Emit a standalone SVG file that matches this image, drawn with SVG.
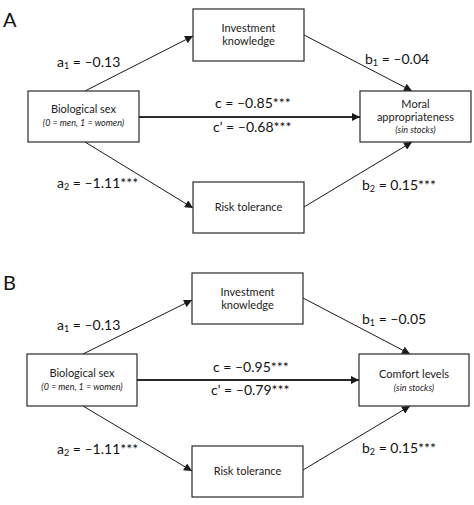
<svg xmlns="http://www.w3.org/2000/svg" width="474" height="505" viewBox="0 0 474 505">
<defs>
<marker id="ah" viewBox="0 0 10 10" refX="10" refY="5" markerWidth="9" markerHeight="8" markerUnits="userSpaceOnUse" orient="auto">
<path d="M0,0 L10,5 L0,10 Z" fill="#1a1a1a"/>
</marker>
</defs>
<style>
.box{fill:#fff;stroke:#2a2a2a;stroke-width:1.2}
.nt{font-family:Lato,"Open Sans",sans-serif;font-size:11px;fill:#222;text-anchor:middle}
.it{font-family:Lato,"Open Sans",sans-serif;font-size:9px;font-style:italic;fill:#222;text-anchor:middle}
.lb{font-family:Lato,"Open Sans",sans-serif;font-size:14px;fill:#111}
.pl{font-family:Lato,"Open Sans",sans-serif;font-size:20px;fill:#111}
.ln{stroke:#1a1a1a;stroke-width:1;fill:none;marker-end:url(#ah)}
.lc{stroke:#2a2a2a;stroke-width:1.8;fill:none;marker-end:url(#ah)}
</style>
<rect width="474" height="505" fill="#fff"/>

<text class="pl" x="3" y="27">A</text>
<text class="pl" x="3" y="290">B</text>

<g id="connectors">
<line class="ln" x1="85" y1="91" x2="193" y2="36"/>
<line class="ln" x1="304" y1="35" x2="412" y2="91"/>
<line class="lc" x1="139" y1="117" x2="360" y2="117"/>
<line class="ln" x1="85" y1="142" x2="193" y2="208"/>
<line class="ln" x1="304" y1="207" x2="412" y2="142"/>

<line class="ln" x1="83" y1="354" x2="192" y2="300"/>
<line class="ln" x1="303" y1="298" x2="410" y2="354"/>
<line class="lc" x1="137" y1="380" x2="359" y2="380"/>
<line class="ln" x1="83" y1="406" x2="192" y2="471"/>
<line class="ln" x1="303" y1="470" x2="410" y2="406"/>

<text class="lb" x="57" y="67">a<tspan font-size="9" dy="2">1</tspan><tspan dy="-2"> = –0.13</tspan></text>
<text class="lb" x="365" y="64">b<tspan font-size="9" dy="2">1</tspan><tspan dy="-2"> = –0.04</tspan></text>
<text class="lb" x="215" y="108">c = –0.85***</text>
<text class="lb" x="213" y="132">c’ = –0.68***</text>
<text class="lb" x="57" y="188">a<tspan font-size="9" dy="2">2</tspan><tspan dy="-2"> = –1.11***</tspan></text>
<text class="lb" x="362" y="190">b<tspan font-size="9" dy="2">2</tspan><tspan dy="-2"> = 0.15***</tspan></text>

<text class="lb" x="57" y="330">a<tspan font-size="9" dy="2">1</tspan><tspan dy="-2"> = –0.13</tspan></text>
<text class="lb" x="362" y="324">b<tspan font-size="9" dy="2">1</tspan><tspan dy="-2"> = –0.05</tspan></text>
<text class="lb" x="213" y="372">c = –0.95***</text>
<text class="lb" x="211" y="395">c’ = –0.79***</text>
<text class="lb" x="57" y="454">a<tspan font-size="9" dy="2">2</tspan><tspan dy="-2"> = –1.11***</tspan></text>
<text class="lb" x="362" y="453">b<tspan font-size="9" dy="2">2</tspan><tspan dy="-2"> = 0.15***</tspan></text>
</g>

<g id="a-investment">
<rect class="box" x="193" y="9" width="111" height="52"/>
<text class="nt" x="248.5" y="32">Investment</text>
<text class="nt" x="248.5" y="45">knowledge</text>
</g>
<g id="a-sex">
<rect class="box" x="28" y="91" width="111" height="51"/>
<text class="nt" x="83.5" y="113">Biological sex</text>
<text class="it" x="83.5" y="126">(0 = men, 1 = women)</text>
</g>
<g id="a-moral">
<rect class="box" x="360" y="91" width="111" height="51"/>
<text class="nt" x="415.5" y="108">Moral</text>
<text class="nt" x="415.5" y="121">appropriateness</text>
<text class="it" x="415.5" y="133">(sin stocks)</text>
</g>
<g id="a-risk">
<rect class="box" x="193" y="182" width="111" height="51"/>
<text class="nt" x="248.5" y="211">Risk tolerance</text>
</g>

<g id="b-investment">
<rect class="box" x="192" y="273" width="111" height="51"/>
<text class="nt" x="247.5" y="296">Investment</text>
<text class="nt" x="247.5" y="309">knowledge</text>
</g>
<g id="b-sex">
<rect class="box" x="27" y="354" width="110" height="52"/>
<text class="nt" x="82" y="377">Biological sex</text>
<text class="it" x="82" y="390">(0 = men, 1 = women)</text>
</g>
<g id="b-comfort">
<rect class="box" x="359" y="354" width="110" height="52"/>
<text class="nt" x="414" y="378">Comfort levels</text>
<text class="it" x="414" y="391">(sin stocks)</text>
</g>
<g id="b-risk">
<rect class="box" x="192" y="446" width="111" height="51"/>
<text class="nt" x="247.5" y="475">Risk tolerance</text>
</g>
</svg>
